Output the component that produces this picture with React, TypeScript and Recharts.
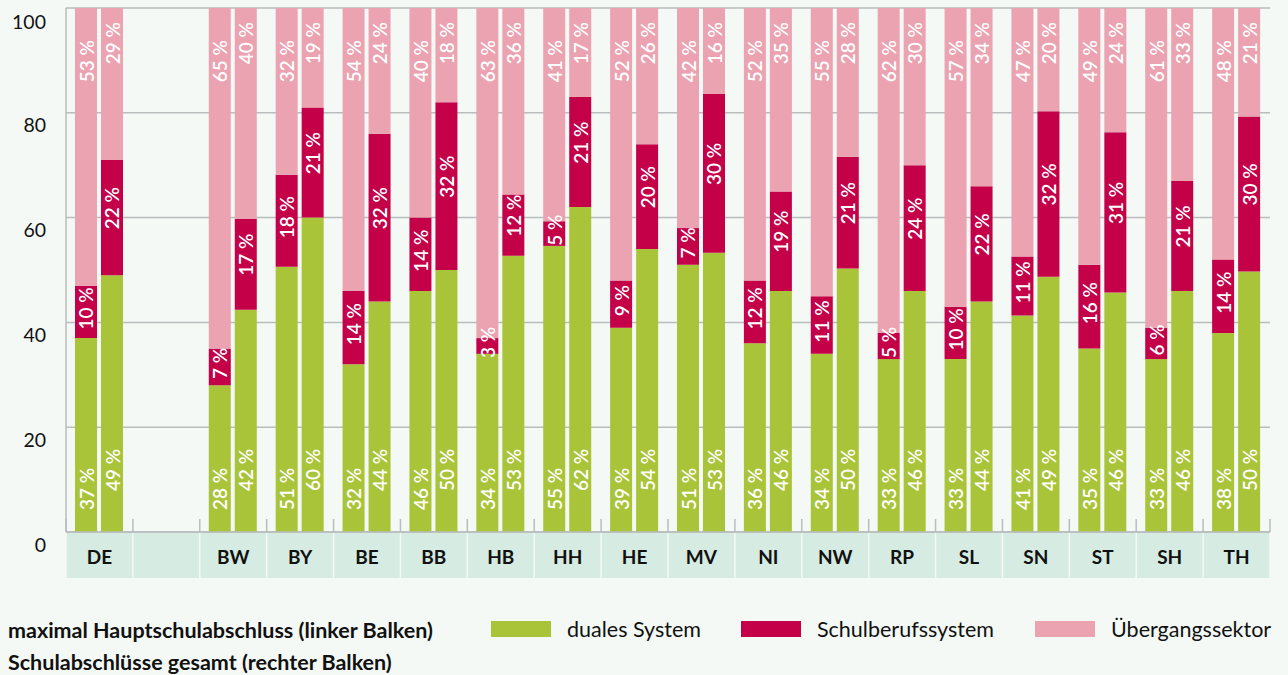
import React from 'react';
import { BarChart, Bar, XAxis, YAxis, CartesianGrid, LabelList } from 'recharts';

const categories = ['DE', '', 'BW', 'BY', 'BE', 'BB', 'HB', 'HH', 'HE', 'MV', 'NI', 'NW', 'RP', 'SL', 'SN', 'ST', 'SH', 'TH'];

// left bar: maximal Hauptschulabschluss
const leftDual = [37, null, 28, 50.6, 32, 46, 34, 54.6, 39, 51, 36, 34, 33, 33, 41.3, 35, 33, 38];
const leftSchul = [10, null, 7, 17.6, 14, 14, 3, 4.7, 9, 7, 12, 11, 5, 10, 11.3, 16, 6, 14];
const leftUeb = [53, null, 65, 31.8, 54, 40, 63, 40.7, 52, 42, 52, 55, 62, 57, 47.4, 49, 61, 48];

// right bar: Schulabschlüsse gesamt
const rightDual = [49, null, 42.4, 60, 44, 50, 52.7, 62, 54, 53.3, 46, 50.3, 46, 44, 48.7, 45.7, 46, 49.7];
const rightSchul = [22, null, 17.4, 21, 32, 32, 11.7, 21, 20, 30.3, 19, 21.3, 24, 22, 31.6, 30.6, 21, 29.6];
const rightUeb = [29, null, 40.2, 19, 24, 18, 35.6, 17, 26, 16.4, 35, 28.4, 30, 34, 19.7, 23.7, 33, 20.7];

const yTicks = [0, 20, 40, 60, 80, 100];

const legendItems = ['duales System', 'Schulberufssystem', 'Übergangssektor'];
const barLegendLines = ['maximal Hauptschulabschluss (linker Balken)', 'Schulabschlüsse gesamt (rechter Balken)'];

const GREEN = '#aac43a';
const RED = '#c40048';
const PINK = '#eba2b1';
const BG = '#f4f9f6';
const CELL = '#d6ebe2';
const GRID = '#b8bdbd';
const FONT = 'Lato, "Noto Sans", sans-serif';

const data = categories.map((c, i) => ({
  name: c,
  lDual: leftDual[i],
  lSchul: leftSchul[i],
  lUeb: leftUeb[i],
  rDual: rightDual[i],
  rSchul: rightSchul[i],
  rUeb: rightUeb[i],
}));

const W = 1288;
const H = 675;
const M = { top: 8, right: 18, left: 8, bottom: 97 };
const Y_W = 58;
const X_H = 46;
const plotW = W - M.left - M.right - Y_W;
const bandW = plotW / categories.length;

const makeLabel = (kind: 'dual' | 'schul' | 'ueb', side: 'L' | 'R') => (props: any) => {
  const { x, y, width, height, value } = props;
  if (value == null || width == null) return null;
  const cx = Number(x) + Number(width) / 2;
  const top = Number(y);
  const h = Number(height);
  let py = 0;
  let anchor: 'start' | 'middle' | 'end' = 'middle';
  if (kind === 'ueb') {
    py = top + (side === 'L' ? 32 : 14);
    anchor = 'end';
  } else if (kind === 'dual') {
    py = top + h - (side === 'L' ? 22 : 41);
    anchor = 'start';
  } else {
    py = top + h / 2 - (side === 'L' ? 3.5 : 9.5);
    anchor = 'middle';
  }
  return (
    <text
      x={cx}
      y={py}
      transform={`rotate(-90, ${cx}, ${py})`}
      textAnchor={anchor}
      dominantBaseline="central"
      fill="#ffffff"
      fontFamily={FONT}
      fontSize={19}
      fontWeight={600}
    >
      {`${Math.round(Number(value))} %`}
    </text>
  );
};

const YTick = (props: any) => {
  const { x, y, payload } = props;
  return (
    <text x={x} y={Number(y) + 12} textAnchor="end" dominantBaseline="central" fontFamily={FONT} fontSize={19.5} fill="#111">
      {payload.value}
    </text>
  );
};

const XTick = (props: any) => {
  const { x, y, payload, index } = props;
  const cx = Number(x);
  const ty = Number(y);
  const left = cx - bandW / 2;
  const isLast = index === categories.length - 1;
  return (
    <g>
      <rect x={left + 0.75} y={ty + 1} width={bandW - 1.5} height={X_H - 1} fill={CELL} />
      <line x1={left} x2={left} y1={ty - 13} y2={ty} stroke={GRID} strokeWidth={1.5} />
      {isLast && <line x1={left + bandW} x2={left + bandW} y1={ty - 13} y2={ty} stroke={GRID} strokeWidth={1.5} />}
      <text x={cx} y={ty + 24} textAnchor="middle" dominantBaseline="central" fontFamily={FONT} fontSize={19} fontWeight={700} fill="#111">
        {payload.value}
      </text>
    </g>
  );
};

const colors = [GREEN, RED, PINK];

export default function App() {
  return (
    <div style={{ position: 'absolute', top: 0, left: 0, width: W, height: H, background: BG, fontFamily: FONT, overflow: 'hidden' }}>
      <BarChart width={W} height={H} data={data} margin={M} barSize={22} barGap={4}>
        <CartesianGrid vertical={false} stroke={GRID} strokeWidth={1.5} />
        <XAxis
          dataKey="name"
          interval={0}
          tickSize={0}
          tickMargin={0}
          height={X_H}
          tickLine={false}
          axisLine={{ stroke: GRID, strokeWidth: 1.5 }}
          tick={<XTick />}
        />
        <YAxis
          domain={[0, 100]}
          allowDataOverflow
          ticks={yTicks}
          width={Y_W}
          tickSize={0}
          tickMargin={20}
          tickLine={false}
          axisLine={{ stroke: GRID, strokeWidth: 1.5 }}
          tick={<YTick />}
        />
        <Bar dataKey="lDual" stackId="L" fill={GREEN} isAnimationActive={false}>
          <LabelList dataKey="lDual" content={makeLabel('dual', 'L')} />
        </Bar>
        <Bar dataKey="lSchul" stackId="L" fill={RED} isAnimationActive={false}>
          <LabelList dataKey="lSchul" content={makeLabel('schul', 'L')} />
        </Bar>
        <Bar dataKey="lUeb" stackId="L" fill={PINK} isAnimationActive={false}>
          <LabelList dataKey="lUeb" content={makeLabel('ueb', 'L')} />
        </Bar>
        <Bar dataKey="rDual" stackId="R" fill={GREEN} isAnimationActive={false}>
          <LabelList dataKey="rDual" content={makeLabel('dual', 'R')} />
        </Bar>
        <Bar dataKey="rSchul" stackId="R" fill={RED} isAnimationActive={false}>
          <LabelList dataKey="rSchul" content={makeLabel('schul', 'R')} />
        </Bar>
        <Bar dataKey="rUeb" stackId="R" fill={PINK} isAnimationActive={false}>
          <LabelList dataKey="rUeb" content={makeLabel('ueb', 'R')} />
        </Bar>
      </BarChart>
      <div style={{ position: 'absolute', left: 8, top: 614, fontSize: 21.5, fontWeight: 700, color: '#111', lineHeight: '32px' }}>
        {barLegendLines.map((t) => (
          <div key={t}>{t}</div>
        ))}
      </div>
      {legendItems.map((t, i) => {
        const lefts = [491, 741, 1035];
        return (
          <div key={t} style={{ position: 'absolute', left: lefts[i], top: 617, height: 24, display: 'flex', alignItems: 'center', whiteSpace: 'nowrap' }}>
            <div style={{ width: 60, height: 16, background: colors[i], marginRight: 16 }} />
            <span style={{ fontSize: 21.5, color: '#111' }}>{t}</span>
          </div>
        );
      })}
    </div>
  );
}
